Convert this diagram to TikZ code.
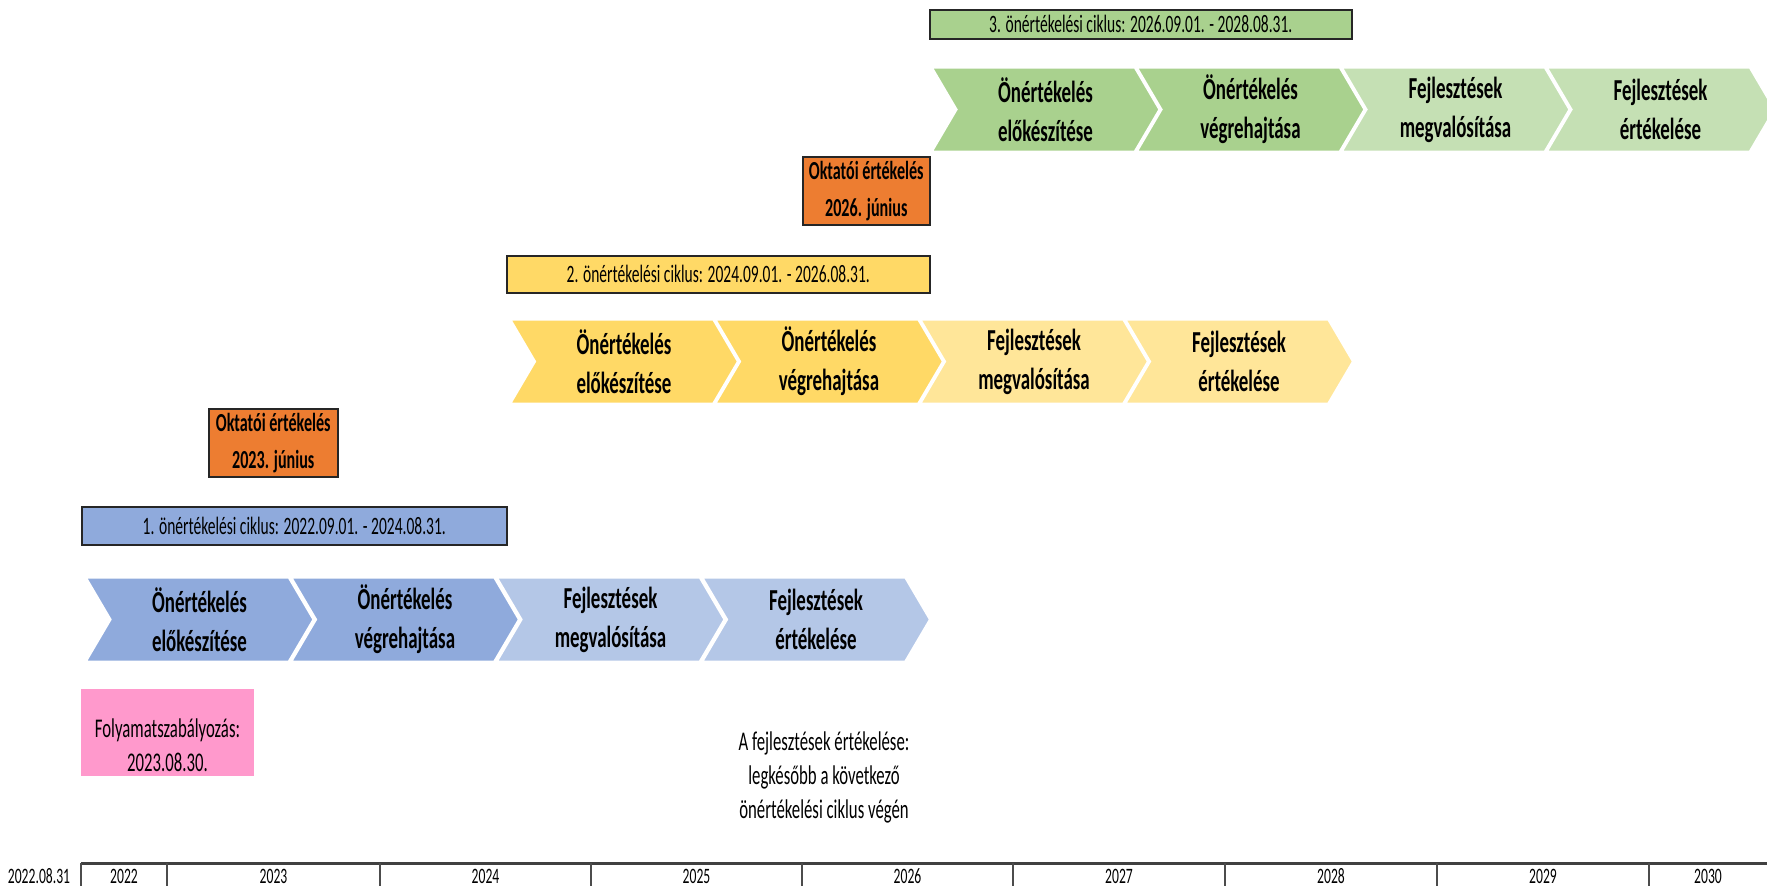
\documentclass[tikz,border=0pt]{standalone}
\usepackage{fontspec}
\setmainfont{Carlito}[FakeStretch=0.62]
\definecolor{blueD}{HTML}{8FAADC}
\definecolor{blueL}{HTML}{B4C7E7}
\definecolor{yelD}{HTML}{FFD966}
\definecolor{yelL}{HTML}{FFE699}
\definecolor{grnD}{HTML}{A9D18E}
\definecolor{grnL}{HTML}{C5E0B4}
\definecolor{orng}{HTML}{ED7D31}
\definecolor{pnk}{HTML}{FF99CC}
\tikzset{
  chev/.style={draw=white, line width=3pt, line join=miter},
  chevtext/.style={font=\bfseries\fontsize{30.5}{39}\selectfont, align=center, inner sep=0pt},
  hdr/.style={draw=black!85, line width=1.5pt, inner sep=0pt, anchor=north west},
  hdrtext/.style={font=\fontsize{25}{28}\selectfont, inner sep=0pt},
  evalbox/.style={draw=black!85, line width=1.5pt, fill=orng, inner sep=0pt, anchor=north west},
  evaltext/.style={font=\bfseries\fontsize{26}{37}\selectfont, align=center, inner sep=0pt},
  plain/.style={font=\fontsize{27}{34}\selectfont, align=center, inner sep=0pt},
  yeartext/.style={font=\fontsize{22}{24}\selectfont, inner sep=0pt},
  axisline/.style={draw=black!75, line width=3pt},
  sepline/.style={draw=black!70, line width=2pt}
}
\newcommand\mychev[5]{%
  \begin{scope}[shift={(#2,#3)}]
    \path[chev, fill=#4] (0,0) -- (204,0) -- (229,42.5) -- (204,85) -- (0,85) -- (25,42.5) -- cycle;
    \node[chevtext] (#1) at (114.5,42.5) {#5};
  \end{scope}}
\begin{document}
\begin{tikzpicture}[x=1pt,y=-1pt]
\useasboundingbox (0,0) rectangle (1767,886);
\clip (0,0) rectangle (1767,886);

% ---- cycle 3 (green)
\node[hdr, fill=grnD, minimum width=422pt, minimum height=29pt] (h3) at (929,9) {};
\node[hdrtext] (h3t) at (h3.center) {3. önértékelési ciklus: 2026.09.01. - 2028.08.31.};
\mychev{g1}{931}{67}{grnD}{Önértékelés\\előkészítése}
\mychev{g2}{1136}{67}{grnD}{Önértékelés\\végrehajtása}
\mychev{g3}{1341}{67}{grnL}{Fejlesztések\\megvalósítása}
\mychev{g4}{1546}{67}{grnL}{Fejlesztések\\értékelése}

% ---- educator evaluation 2026
\node[evalbox, minimum width=127pt, minimum height=68pt] (o2) at (802,156) {};
\node[evaltext] (o2t) at (o2.center) {Oktatói értékelés\\2026. június};

% ---- cycle 2 (yellow)
\node[hdr, fill=yelD, minimum width=423pt, minimum height=37pt] (h2) at (506,255) {};
\node[hdrtext] (h2t) at (h2.center) {2. önértékelési ciklus: 2024.09.01. - 2026.08.31.};
\mychev{y1}{509.5}{319}{yelD}{Önértékelés\\előkészítése}
\mychev{y2}{714.5}{319}{yelD}{Önértékelés\\végrehajtása}
\mychev{y3}{919.5}{319}{yelL}{Fejlesztések\\megvalósítása}
\mychev{y4}{1124.5}{319}{yelL}{Fejlesztések\\értékelése}

% ---- educator evaluation 2023
\node[evalbox, minimum width=129pt, minimum height=68pt] (o1) at (208,408) {};
\node[evaltext] (o1t) at (o1.center) {Oktatói értékelés\\2023. június};

% ---- cycle 1 (blue)
\node[hdr, fill=blueD, minimum width=425pt, minimum height=38pt] (h1) at (81,506) {};
\node[hdrtext] (h1t) at (h1.center) {1. önértékelési ciklus: 2022.09.01. - 2024.08.31.};
\mychev{b1}{85}{577}{blueD}{Önértékelés\\előkészítése}
\mychev{b2}{290.5}{577}{blueD}{Önértékelés\\végrehajtása}
\mychev{b3}{496}{577}{blueL}{Fejlesztések\\megvalósítása}
\mychev{b4}{701.5}{577}{blueL}{Fejlesztések\\értékelése}

% ---- process regulation
\node[fill=pnk, minimum width=173pt, minimum height=87pt, inner sep=0pt, anchor=north west] (pk) at (81,689) {};
\node[plain] (pkt) at (167.5,745) {Folyamatszabályozás:\\2023.08.30.};

% ---- note
\node[plain] (note) at (824,777) {A fejlesztések értékelése:\\legkésőbb a következő\\önértékelési ciklus végén};

% ---- time axis
\draw[axisline] (81,863) -- (1767,863);
\foreach \x in {81,167,380,591,802,1013,1225,1437,1649}
  \draw[sepline] (\x,863) -- (\x,886);
\node[yeartext] (d0) at (39,876) {2022.08.31};
\node[yeartext] (y22) at (124,876) {2022};
\node[yeartext] (y23) at (273.5,876) {2023};
\node[yeartext] (y24) at (485.5,876) {2024};
\node[yeartext] (y25) at (696.5,876) {2025};
\node[yeartext] (y26) at (907.5,876) {2026};
\node[yeartext] (y27) at (1119,876) {2027};
\node[yeartext] (y28) at (1331,876) {2028};
\node[yeartext] (y29) at (1543,876) {2029};
\node[yeartext] (y30) at (1708,876) {2030};
\end{tikzpicture}
\end{document}
